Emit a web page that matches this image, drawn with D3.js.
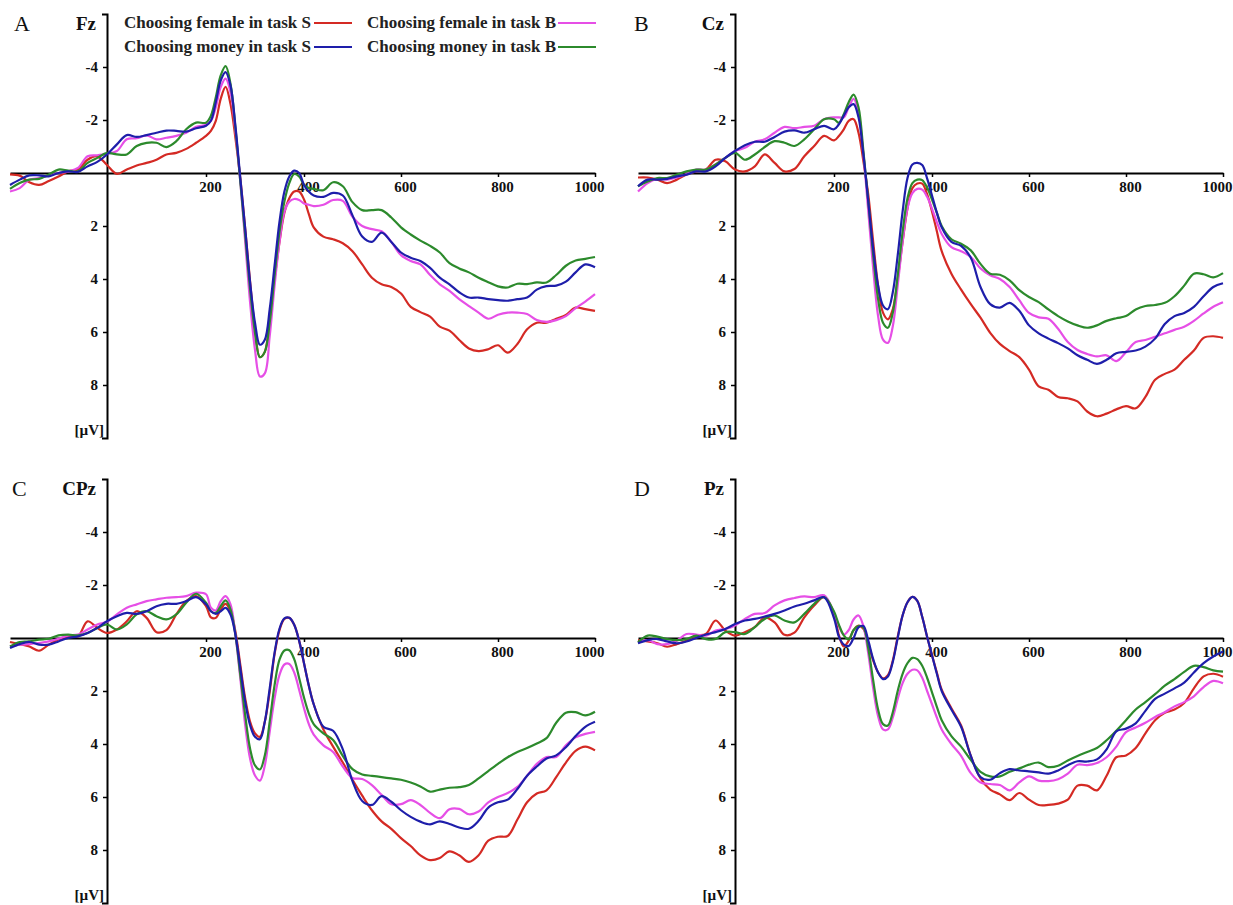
<!DOCTYPE html>
<html>
<head>
<meta charset="utf-8">
<script src="https://cdn.jsdelivr.net/npm/d3@7"></script>
<style>
  body { margin: 0; background: #fff; }
  svg text { font-family: "Liberation Serif", "Times New Roman", serif; }
</style>
</head>
<body>
<svg id="fig" width="1233" height="905"></svg>
<script>
// sample times (ms) - denser around the early components
var times = [-200,-180,-160,-140,-120,-100,-80,-60,-40,-20,0,20,40,60,80,100,120,140,160,180,200,
  210,220,230,240,250,260,270,280,290,300,310,320,330,340,350,360,370,380,390,400,410,420,
  440,460,480,500,520,540,560,580,600,620,640,660,680,700,720,740,760,780,800,820,840,860,880,900,920,940,960,980,1000];

var seriesNames = ["Choosing female in task S", "Choosing money in task S", "Choosing female in task B", "Choosing money in task B"];
var seriesColors = ["#d42a24", "#1e1eaa", "#e64fe6", "#2c8a2c"];
var xTickValues = [200, 400, 600, 800, 1000];
var yTickValues = [-4, -2, 2, 4, 6, 8];

// Fz
var fzFemaleS = [0.05,0.1,0.35,0.45,0.3,0.13,-0.06,-0.13,-0.5,-0.63,-0.3,0.03,-0.13,-0.28,-0.38,-0.5,-0.7,-0.76,-0.91,-1.14,-1.4,
  -1.59,-1.97,-2.8,-3.25,-2.6,-1.33,0.19,2.1,4.1,5.9,6.95,6.75,5.5,4.0,2.6,1.5,0.95,0.7,0.7,1.0,1.55,2.05,
  2.4,2.5,2.65,2.95,3.45,3.95,4.2,4.3,4.55,5.05,5.25,5.42,5.8,5.95,6.3,6.62,6.72,6.65,6.5,6.78,6.45,5.9,5.65,5.65,5.5,5.36,5.08,5.14,5.2];
var fzMoneyS = [0.45,0.25,0.09,0.09,0.13,0,-0.06,-0.04,-0.25,-0.42,-0.7,-1.08,-1.43,-1.36,-1.43,-1.52,-1.6,-1.59,-1.56,-1.69,-1.78,
  -1.97,-2.67,-3.49,-3.81,-3.3,-1.78,0.19,2.1,4.13,5.65,6.48,6.29,5.14,3.49,1.84,0.7,0.13,-0.09,0.0,0.45,0.7,0.85,
  0.9,0.75,0.85,1.6,2.4,2.6,2.25,2.6,3.0,3.2,3.32,3.58,3.95,4.2,4.5,4.7,4.7,4.76,4.8,4.82,4.76,4.7,4.4,4.27,4.25,4.1,3.75,3.45,3.56];
var fzFemaleB = [0.7,0.57,0.25,0.19,0.09,0,-0.06,-0.19,-0.63,-0.67,-0.72,-0.83,-1.27,-1.31,-1.42,-1.27,-1.33,-1.4,-1.52,-1.74,-1.82,
  -1.97,-2.48,-3.24,-3.56,-3.05,-1.59,0.32,2.6,4.89,6.67,7.68,7.56,6.16,4.25,2.6,1.46,1.08,0.98,1.02,1.15,1.2,1.25,
  1.2,1.02,1.05,1.65,2.0,2.12,2.2,2.6,3.1,3.32,3.45,3.85,4.2,4.45,4.76,5.02,5.27,5.5,5.35,5.27,5.27,5.32,5.55,5.62,5.55,5.4,5.1,4.85,4.57];
var fzMoneyB = [0.6,0.38,0.25,0.22,0.06,-0.13,-0.09,-0.06,-0.38,-0.57,-0.76,-0.7,-0.7,-1.02,-1.14,-1.14,-0.98,-1.2,-1.65,-1.9,-1.9,
  -2.16,-2.86,-3.68,-4.03,-3.37,-1.71,0.32,2.35,4.38,6.03,6.95,6.75,5.65,3.87,2.22,1.08,0.38,0.04,0.13,0.44,0.57,0.6,
  0.65,0.35,0.5,1.1,1.4,1.4,1.4,1.68,2.05,2.32,2.55,2.75,3.0,3.4,3.6,3.75,3.95,4.12,4.28,4.32,4.18,4.19,4.13,4.13,3.85,3.5,3.3,3.24,3.17];

// Cz
var czFemaleS = [0.17,0.17,0.25,0.38,0.25,0.06,-0.06,-0.13,-0.5,-0.44,-0.13,-0.06,-0.25,-0.7,-0.38,-0.06,-0.15,-0.63,-1.02,-1.4,-1.23,
  -1.4,-1.65,-1.97,-2.03,-1.52,-0.44,0.83,2.6,4.25,5.27,5.52,5.14,4.0,2.6,1.33,0.57,0.4,0.4,0.8,1.45,2.2,2.95,
  3.8,4.4,4.95,5.46,6.03,6.45,6.72,6.95,7.42,8.05,8.18,8.45,8.5,8.62,9.0,9.18,9.08,8.92,8.8,8.88,8.45,7.8,7.58,7.42,7.05,6.7,6.22,6.16,6.22];
var czMoneyS = [0.5,0.25,0.25,0.22,0.13,0.06,-0.06,-0.06,-0.25,-0.57,-0.83,-1.05,-1.18,-1.18,-1.36,-1.56,-1.61,-1.52,-1.65,-1.78,-1.65,
  -1.84,-2.16,-2.48,-2.6,-2.1,-0.7,1.08,2.86,4.25,5.0,5.14,4.5,3.11,1.46,0.19,-0.32,-0.38,-0.3,0.2,0.85,1.5,2.05,
  2.6,2.75,3.2,4.3,4.95,5.08,4.9,5.2,5.75,6.05,6.25,6.42,6.62,6.88,7.05,7.2,7.05,6.8,6.75,6.7,6.55,6.25,5.7,5.4,5.28,5.05,4.65,4.3,4.16];
var czFemaleB = [0.7,0.38,0.22,0.25,0.17,0.04,-0.13,-0.13,-0.32,-0.57,-0.83,-0.95,-1.18,-1.27,-1.52,-1.74,-1.69,-1.74,-1.78,-2.03,-2.1,
  -2.1,-2.1,-2.48,-2.8,-2.29,-0.7,1.46,3.62,5.4,6.29,6.41,5.78,4.25,2.6,1.33,0.76,0.6,0.63,0.9,1.35,1.85,2.3,
  2.8,2.95,3.17,3.6,3.86,4.0,4.3,4.8,5.28,5.45,5.5,5.88,6.38,6.68,6.83,6.92,6.88,7.1,6.76,6.38,6.3,6.18,6.05,5.92,5.8,5.58,5.3,5.05,4.88];
var czMoneyB = [0.5,0.32,0.19,0.19,0.06,-0.06,-0.13,-0.13,-0.32,-0.57,-0.76,-0.5,-0.7,-0.98,-1.2,-1.14,-1.02,-1.27,-1.65,-2.03,-2.03,
  -1.9,-2.22,-2.67,-2.96,-2.48,-0.83,1.08,3.11,4.76,5.65,5.84,5.27,3.87,2.22,0.95,0.38,0.25,0.27,0.55,1.0,1.5,2.0,
  2.5,2.67,2.92,3.43,3.8,3.84,4.05,4.42,4.68,4.87,5.15,5.4,5.6,5.75,5.84,5.75,5.58,5.48,5.4,5.15,5.02,4.98,4.9,4.65,4.25,3.8,3.82,3.94,3.78];

// CPz
var cpzFemaleS = [0.15,0.23,0.32,0.48,0.25,0.06,-0.06,-0.06,-0.63,-0.38,-0.19,-0.32,-0.63,-1.01,-0.76,-0.22,-0.3,-0.89,-1.39,-1.58,-1.2,
  -0.78,-0.76,-1.08,-1.29,-1.01,-0.25,1.01,2.28,3.16,3.6,3.73,3.16,2.03,0.6,-0.3,-0.72,-0.76,-0.5,0.1,0.95,1.8,2.5,
  3.45,4.1,4.7,5.35,5.95,6.5,6.92,7.2,7.55,7.85,8.2,8.38,8.3,8.05,8.2,8.45,8.2,7.65,7.5,7.47,6.85,6.2,5.87,5.75,5.25,4.7,4.26,4.1,4.24];
var cpzMoneyS = [0.38,0.23,0.15,0.25,0.25,0.13,0,-0.06,-0.19,-0.38,-0.63,-0.82,-0.95,-0.91,-1.01,-1.2,-1.29,-1.29,-1.39,-1.54,-1.27,
  -1.01,-0.91,-1.01,-1.14,-0.89,-0.13,1.14,2.41,3.29,3.73,3.82,3.16,1.9,0.55,-0.35,-0.74,-0.76,-0.5,0.1,0.95,1.8,2.5,
  3.35,3.5,4.2,5.4,6.15,6.3,5.97,6.18,6.5,6.75,6.93,7.03,6.92,7.02,7.15,7.2,6.9,6.4,6.2,6.1,5.7,5.2,4.85,4.55,4.43,4.12,3.7,3.35,3.16];
var cpzFemaleB = [0.32,0.25,0.23,0.19,0.13,0.03,-0.1,-0.13,-0.32,-0.51,-0.61,-0.89,-1.14,-1.27,-1.39,-1.46,-1.52,-1.54,-1.58,-1.71,-1.65,
  -1.14,-1.04,-1.39,-1.58,-1.27,-0.13,1.52,3.29,4.56,5.19,5.38,4.81,3.54,2.28,1.39,1.0,0.98,1.3,1.95,2.65,3.25,3.65,
  4.05,4.3,4.85,5.28,5.32,5.55,5.92,6.27,6.27,6.12,6.3,6.6,6.8,6.46,6.45,6.65,6.55,6.2,6.0,5.85,5.62,5.2,4.75,4.49,4.49,4.05,3.75,3.62,3.54];
var cpzMoneyB = [0.32,0.15,0.13,0.06,0.03,-0.1,-0.13,-0.1,-0.19,-0.38,-0.51,-0.32,-0.51,-0.89,-1.01,-0.82,-0.7,-0.89,-1.33,-1.67,-1.33,
  -1.01,-0.95,-1.2,-1.42,-1.08,-0.13,1.39,2.91,4.18,4.81,4.96,4.43,3.16,1.77,0.82,0.47,0.46,0.8,1.5,2.25,2.85,3.25,
  3.6,3.85,4.45,4.95,5.15,5.2,5.25,5.3,5.35,5.45,5.6,5.8,5.72,5.65,5.63,5.55,5.3,5.02,4.75,4.5,4.3,4.15,3.98,3.78,3.2,2.82,2.8,2.92,2.78];

// Pz
var pzFemaleS = [0.08,0.13,0.2,0.33,0.23,0.1,-0.09,-0.15,-0.66,-0.28,-0.09,-0.22,-0.41,-0.78,-0.59,-0.12,-0.2,-0.78,-1.23,-1.54,-0.9,
  -0.1,0.32,0.1,-0.3,-0.47,-0.35,0.2,0.85,1.3,1.52,1.4,0.85,-0.05,-0.85,-1.35,-1.55,-1.4,-0.8,-0.05,0.65,1.3,1.95,
  2.65,3.3,4.45,5.3,5.72,5.9,6.12,5.85,6.1,6.3,6.3,6.25,6.1,5.57,5.57,5.75,5.2,4.5,4.43,4.15,3.6,3.1,2.82,2.7,2.45,1.9,1.45,1.35,1.46];
var pzMoneyS = [0.2,0.08,0.04,0.13,0.2,0.13,0,-0.13,-0.22,-0.34,-0.53,-0.66,-0.72,-0.81,-0.91,-1.04,-1.19,-1.29,-1.42,-1.54,-0.75,
  -0.05,0.25,0.3,0.0,-0.4,-0.45,0.1,0.8,1.3,1.55,1.45,0.9,0.0,-0.85,-1.35,-1.55,-1.4,-0.8,-0.05,0.65,1.35,2.0,
  2.7,3.35,4.45,5.25,5.35,5.1,4.95,5.0,5.03,5.07,5.12,5.0,4.8,4.65,4.66,4.58,4.2,3.52,3.42,3.22,2.75,2.3,2.1,1.9,1.68,1.3,0.95,0.7,0.51];
var pzFemaleB = [0.16,0.08,0.23,0.23,0.1,-0.15,-0.13,-0.09,-0.28,-0.34,-0.47,-0.72,-0.91,-0.94,-1.23,-1.42,-1.51,-1.57,-1.54,-1.61,-0.95,
  -0.45,-0.13,-0.3,-0.7,-0.85,-0.45,0.6,1.9,2.95,3.45,3.45,3.0,2.3,1.7,1.35,1.2,1.22,1.5,2.0,2.5,3.0,3.45,
  4.0,4.45,5.1,5.45,5.51,5.55,5.75,5.45,5.22,5.38,5.4,5.33,5.12,4.78,4.8,4.72,4.5,4.1,3.55,3.38,3.2,2.98,2.8,2.58,2.42,2.2,1.85,1.62,1.71];
var pzMoneyB = [0.16,-0.09,-0.05,0.04,0.08,0.04,-0.09,0.04,0.04,-0.22,-0.22,-0.15,-0.41,-0.72,-0.85,-0.66,-0.59,-0.91,-1.29,-1.54,-1.0,
  -0.5,-0.1,0.05,-0.3,-0.45,-0.4,0.4,1.6,2.7,3.25,3.3,2.8,2.0,1.35,0.95,0.75,0.8,1.05,1.5,2.05,2.6,3.1,
  3.7,4.1,4.6,5.05,5.22,5.22,5.05,4.92,4.78,4.7,4.87,4.82,4.62,4.45,4.3,4.15,3.86,3.5,3.1,2.7,2.42,2.12,1.8,1.55,1.28,1.05,1.1,1.22,1.27];

// panel layout: ax = x of y axis, zy = y of zero line
var panels = [
  { letter: "A", channel: "Fz",  ax: 107, zy: 173, lx: 14,  series: [fzFemaleS, fzMoneyS, fzFemaleB, fzMoneyB] },
  { letter: "B", channel: "Cz",  ax: 735, zy: 173, lx: 634, series: [czFemaleS, czMoneyS, czFemaleB, czMoneyB] },
  { letter: "C", channel: "CPz", ax: 107, zy: 638, lx: 12,  series: [cpzFemaleS, cpzMoneyS, cpzFemaleB, cpzMoneyB] },
  { letter: "D", channel: "Pz",  ax: 735, zy: 638, lx: 634, series: [pzFemaleS, pzMoneyS, pzFemaleB, pzMoneyB] }
];

var svg = d3.select("#fig");
var drawOrder = [0, 2, 3, 1]; // red, magenta, green, blue on top

panels.forEach(function (p) {
  var x = d3.scaleLinear()
    .domain([-200, 0, 200, 400, 1000])
    .range([p.ax - 97, p.ax, p.ax + 99, p.ax + 197, p.ax + 488]);
  var y = d3.scaleLinear().domain([-6, 10]).range([p.zy - 159, p.zy + 265]);

  var g = svg.append("g");

  // y axis (bracket style ends)
  var yAxis = g.append("g")
    .attr("transform", "translate(" + p.ax + ",0)")
    .call(d3.axisLeft(y).tickValues(yTickValues).tickSize(4).tickSizeOuter(5).tickPadding(5)
      .tickFormat(function (d) { return String(d); }));
  yAxis.select(".domain").attr("stroke", "#000").attr("stroke-width", 2);
  yAxis.selectAll(".tick line").attr("stroke", "#000").attr("stroke-width", 1.5);
  yAxis.selectAll("text").attr("font-family", "Liberation Serif, serif").attr("font-size", 15)
    .attr("font-weight", "bold").attr("fill", "#111");

  // x axis at zero
  var xAxis = g.append("g")
    .attr("transform", "translate(0," + p.zy + ")")
    .call(d3.axisBottom(x).tickValues(xTickValues).tickSize(4).tickSizeOuter(0).tickPadding(4.5)
      .tickFormat(function (d) { return String(d); }));
  xAxis.select(".domain").attr("stroke", "#000").attr("stroke-width", 2);
  xAxis.selectAll(".tick line").attr("stroke", "#000").attr("stroke-width", 1.5);
  xAxis.selectAll("text").attr("font-family", "Liberation Serif, serif").attr("font-size", 15)
    .attr("font-weight", "bold").attr("fill", "#111")
    .attr("dx", function (d) { return d === 1000 ? -6 : 4; });

  // unit label
  g.append("text").attr("x", p.ax - 3).attr("y", p.zy + 262)
    .attr("text-anchor", "end").attr("font-size", 15).attr("font-weight", "bold")
    .attr("fill", "#111").text("[\u00b5V]");

  // panel letter and channel
  g.append("text").attr("x", p.lx).attr("y", p.zy - 142)
    .attr("font-size", 22).attr("fill", "#111").text(p.letter);
  g.append("text").attr("x", p.ax - 11).attr("y", p.zy - 143)
    .attr("text-anchor", "end").attr("font-size", 19).attr("font-weight", "bold")
    .attr("fill", "#111").text(p.channel);

  var line = d3.line()
    .x(function (d, i) { return x(times[i]); })
    .y(function (d) { return y(d); })
    .curve(d3.curveCatmullRom.alpha(0.5));

  drawOrder.forEach(function (k) {
    g.append("path")
      .datum(p.series[k])
      .attr("fill", "none")
      .attr("stroke", seriesColors[k])
      .attr("stroke-width", 2.2)
      .attr("stroke-linejoin", "round")
      .attr("d", line);
  });
});

// legend (panel A only)
var legendRows = [[0, 2], [1, 3]];
var legendTextX = [311, 556];
var legendLineX = [314, 558];
legendRows.forEach(function (row, r) {
  row.forEach(function (k, c) {
    svg.append("text")
      .attr("x", legendTextX[c]).attr("y", 28 + r * 24)
      .attr("text-anchor", "end")
      .attr("font-size", 17).attr("font-weight", "bold").attr("fill", "#222")
      .text(seriesNames[k]);
    svg.append("line")
      .attr("x1", legendLineX[c]).attr("x2", legendLineX[c] + 38)
      .attr("y1", 23 + r * 24).attr("y2", 23 + r * 24)
      .attr("stroke", seriesColors[k]).attr("stroke-width", 2.2);
  });
});
</script>
</body>
</html>
